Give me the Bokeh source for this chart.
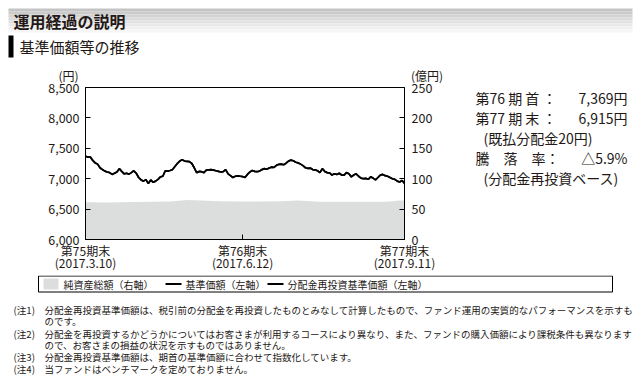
from bokeh.plotting import figure
from bokeh.layouts import column, row
from bokeh.models import Range1d, LinearAxis, FixedTicker, NumeralTickFormatter, Title
from bokeh.core.properties import value
from bokeh.embed import file_html
from bokeh.resources import INLINE

# ---------------- data ----------------
nav = [7369, 7355, 7355, 7300, 7260, 7240, 7180, 7150, 7125, 7110,
       7100, 7070, 7090, 7110, 7165, 7120, 7080, 7090, 7075, 7100,
       7130, 7090, 7020, 6980, 6960, 6985, 6920, 6980, 6940, 6960,
       6990, 7030, 7040, 7130, 7125, 7135, 7150, 7200, 7250, 7290,
       7310, 7290, 7285, 7280, 7250, 7180, 7100, 7120, 7115, 7100,
       7140, 7145, 7150, 7140, 7130, 7120, 7110, 7115, 7150, 7080,
       7050, 7020, 7040, 7045, 7040, 7035, 7020, 7070, 7110, 7135,
       7120, 7115, 7125, 7150, 7165, 7155, 7175, 7190, 7185, 7220,
       7235, 7240, 7230, 7255, 7290, 7305, 7295, 7270, 7260, 7240,
       7215, 7180, 7170, 7175, 7150, 7145, 7130, 7100, 7165, 7120,
       7100, 7095, 7060, 7080, 7070, 7090, 7060, 7060, 7100, 7080,
       7030, 7060, 7080, 7040, 7010, 7000, 7005, 6990, 7030, 7010,
       6980, 7020, 7060, 7070, 7050, 7040, 7020, 7000, 6990, 6960,
       6945, 6970, 6915]
reinvest = nav[:-1] + [6935]
days = list(range(len(nav)))

net_idx = [0, 10, 19, 27, 35, 42, 48, 56, 64, 72, 81, 88, 97, 110, 125, 130, 132]
net_assets = [61.3, 61.0, 61.5, 62.0, 62.5, 65.0, 64.0, 63.0, 62.5, 62.5,
              63.0, 64.0, 62.0, 62.0, 62.0, 64.0, 64.0]

x_tick_idx = [0, 65, 132]
x_tick_labels = ["第75期末\n(2017.3.10)", "第76期末\n(2017.6.12)", "第77期末\n(2017.9.11)"]
left_ticks = [6000, 6500, 7000, 7500, 8000, 8500]
right_ticks = [0, 50, 100, 150, 200, 250]
unit_left, unit_right = "(円)", "(億円)"

summary_left = ["第76 期 首 ：", "第77 期 末 ：", "騰　落　率："]
summary_right = ["7,369円", "6,915円", "△5.9%"]
summary_sub = ["(既払分配金20円)", "(分配金再投資ベース)"]

legend_labels = ["純資産総額（右軸）", "基準価額（左軸）", "分配金再投資基準価額（左軸）"]

notes = [
    ("(注1)", "分配金再投資基準価額は、税引前の分配金を再投資したものとみなして計算したもので、ファンド運用の実質的なパフォーマンスを示すも"),
    ("", "のです。"),
    ("(注2)", "分配金を再投資するかどうかについてはお客さまが利用するコースにより異なり、また、ファンドの購入価額により課税条件も異なります"),
    ("", "ので、お客さまの損益の状況を示すものではありません。"),
    ("(注3)", "分配金再投資基準価額は、期首の基準価額に合わせて指数化しています。"),
    ("(注4)", "当ファンドはベンチマークを定めておりません。"),
]

FONT = "Noto Sans CJK JP"
TXT = "#231815"
AREA = "#dcdddd"


def panel(w, h, xr=None, yr=None):
    f = figure(width=w, height=h, output_backend="svg", toolbar_location=None,
               x_range=xr or Range1d(0, w), y_range=yr or Range1d(h, 0),
               x_axis_location=None, y_axis_location=None, min_border=0)
    f.xgrid.visible = False
    f.ygrid.visible = False
    f.outline_line_color = None
    f.background_fill_color = "white"
    f.border_fill_color = "white"
    return f


def txt(f, s, x, y, size, align="left", bold=False):
    f.text(x=[x], y=[y], text=[s], text_font=value(FONT), text_font_size=value(size),
           text_color=TXT, text_align=align, text_baseline="middle",
           text_font_style="bold" if bold else "normal")


# ---------------- header (y 0-58) ----------------
hd = panel(644, 58)
grads = ["#c4c4c4", "#cbcbcb", "#d3d3d3", "#dadada", "#e2e2e2", "#e9e9e9",
         "#f0f0f0", "#f6f6f6"]
for k, c in enumerate(grads):
    hd.quad(left=8, right=632, top=8 + k * 3, bottom=8 + (k + 1) * 3,
            fill_color=c, line_color=None)
txt(hd, "運用経過の説明", 13, 20, "16px", bold=True)
hd.quad(left=8, right=13, top=35, bottom=57, fill_color="black", line_color=None)
txt(hd, "基準価額等の推移", 19, 46, "15px")

# ---------------- chart (y 58-275, x 0-454) ----------------
p = figure(width=454, height=217, output_backend="svg", toolbar_location=None,
           x_range=Range1d(0, len(nav) - 1), y_range=Range1d(6000, 8500),
           min_border_left=85, min_border_right=50, min_border_top=29,
           min_border_bottom=36)
p.extra_y_ranges = {"assets": Range1d(0, 250)}
p.outline_line_color = "black"
p.outline_line_width = 1
p.xgrid.visible = False
p.ygrid.visible = False
p.border_fill_color = "white"

# unit labels as one title line above the frame
p.title = Title(text=unit_left + "\u2003" * 27 + "\u2002\u2009" + unit_right,
                align="left", offset=-27, standoff=7, text_font=FONT,
                text_font_size="12px", text_font_style="normal", text_color=TXT)

p.varea(x=net_idx, y1=[0] * len(net_idx), y2=net_assets, y_range_name="assets",
        fill_color=AREA)
p.line(days, reinvest, line_color="black", line_width=1.7)
p.line(days, nav, line_color="black", line_width=1.7)

ya = p.yaxis[0]
ya.ticker = FixedTicker(ticks=left_ticks)
ya.formatter = NumeralTickFormatter(format="0,0")

ra = LinearAxis(y_range_name="assets", ticker=FixedTicker(ticks=right_ticks))
p.add_layout(ra, "right")

xa = p.xaxis[0]
xa.ticker = FixedTicker(ticks=x_tick_idx)
xa.major_label_overrides = {i: t for i, t in zip(x_tick_idx, x_tick_labels)}

for ax in [ya, ra, xa]:
    ax.major_tick_in = 5
    ax.major_tick_out = 0
    ax.minor_tick_line_color = None
    ax.axis_line_color = "black"
    ax.major_tick_line_color = "black"
    ax.major_label_text_font = FONT
    ax.major_label_text_color = TXT
    ax.major_label_text_font_size = "12.5px"
ya.major_label_standoff = 6
ra.major_label_standoff = 7
xa.major_label_standoff = 2
xa.major_label_text_font_size = "12px"
xa.major_label_text_line_height = 0.75

# ---------------- side text (x 454-644), frame aligned with chart frame ----------------
sd = panel(190, 217, xr=Range1d(454, 644), yr=Range1d(239, 87))
sd.min_border_top = 29
sd.min_border_bottom = 36
for t, v, y in zip(summary_left, summary_right, [97, 117, 157]):
    txt(sd, t, 475, y, "14px")
    txt(sd, v, 627, y, "14px", align="right")
txt(sd, summary_sub[0], 483, 137, "14px")
txt(sd, summary_sub[1], 483, 177, "14px")

# ---------------- legend (y 275-293) ----------------
lg = panel(644, 18)
lg.quad(left=38, right=612, top=0.5, bottom=16.5, fill_color=None, line_color="black",
        line_width=1)
lg.quad(left=43, right=58, top=3, bottom=14, fill_color=AREA, line_color=None)
txt(lg, legend_labels[0], 63, 8.5, "10px")
lg.line([165, 181], [8.5, 8.5], line_color="black", line_width=2)
txt(lg, legend_labels[1], 185, 8.5, "10px")
lg.line([267, 283], [8.5, 8.5], line_color="black", line_width=2)
txt(lg, legend_labels[2], 287, 8.5, "10px")

# ---------------- notes (y 293-384) ----------------
nt = panel(644, 91)
for (tag, body), y in zip(notes, [16, 27, 40, 51, 63, 75]):
    if tag:
        txt(nt, tag, 13, y, "9.6px")
    txt(nt, body, 44, y, "9.5px")

layout = column(hd, row(p, sd, spacing=0), lg, nt, spacing=0)
open("out.html", "w").write(file_html(layout, INLINE))
